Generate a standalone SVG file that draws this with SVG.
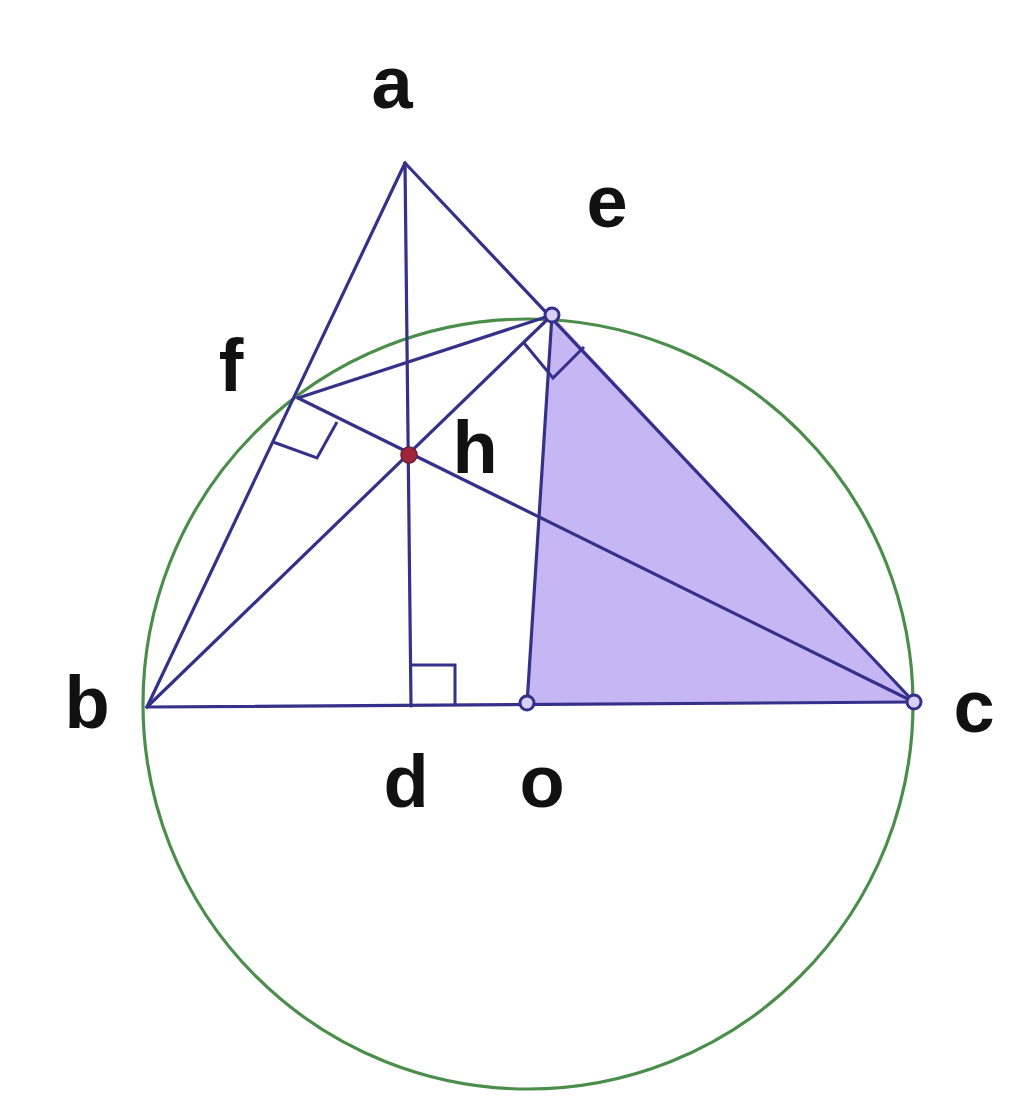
<svg xmlns="http://www.w3.org/2000/svg" width="1024" height="1108" viewBox="0 0 1024 1108">
<style>
.ln{stroke:#35318a;stroke-width:3.2;fill:none;stroke-linecap:round;stroke-linejoin:round}
.rt{stroke:#35318a;stroke-width:3;fill:none}
.pt{stroke:#35318a;stroke-width:3;fill:#d8d0f8}
.lb{font-family:"Liberation Sans",Arial,sans-serif;font-weight:bold;font-size:74px;fill:#111;text-anchor:middle}
</style>
<rect width="1024" height="1108" fill="#fff"/>
<g id="shade">
<polygon points="552,315 527,704 914,702" fill="#c6b6f3"/>
</g>
<g id="circle">
<circle cx="528" cy="704" r="385" fill="none" stroke="#4b8e4b" stroke-width="3.2"/>
</g>
<g id="connectors">
<line class="ln" x1="405" y1="163" x2="147" y2="707"/>
<line class="ln" x1="405" y1="163" x2="914" y2="702"/>
<line class="ln" x1="147" y1="707" x2="914" y2="702"/>
<line class="ln" x1="405" y1="163" x2="411" y2="706"/>
<line class="ln" x1="147" y1="707" x2="552" y2="315"/>
<line class="ln" x1="298" y1="398" x2="914" y2="702"/>
<line class="ln" x1="298" y1="398" x2="552" y2="315"/>
<line class="ln" x1="552" y1="315" x2="527" y2="704"/>
</g>
<g id="right-angles">
<polyline class="rt" points="273,442 317,458 337,422"/>
<polyline class="rt" points="524,343 553,378 584,347"/>
<polyline class="rt" points="411,665 455,665 455,705"/>
</g>
<g id="points">
<circle id="pt-e" class="pt" cx="552" cy="315" r="7"/>
<circle id="pt-o" class="pt" cx="527" cy="703" r="7"/>
<circle id="pt-c" class="pt" cx="914" cy="702" r="7"/>
<circle id="pt-h" cx="409" cy="455" r="8" fill="#a0243a" stroke="#6a1f3a" stroke-width="1.5"/>
</g>
<g id="labels">
<text id="lbl-a" class="lb" x="392" y="108">a</text>
<text id="lbl-e" class="lb" x="607" y="227">e</text>
<text id="lbl-f" class="lb" x="231" y="391">f</text>
<text id="lbl-h" class="lb" x="475" y="473">h</text>
<text id="lbl-b" class="lb" x="87" y="728">b</text>
<text id="lbl-d" class="lb" x="406" y="807">d</text>
<text id="lbl-o" class="lb" x="542" y="807">o</text>
<text id="lbl-c" class="lb" x="974" y="732">c</text>
</g>
</svg>
